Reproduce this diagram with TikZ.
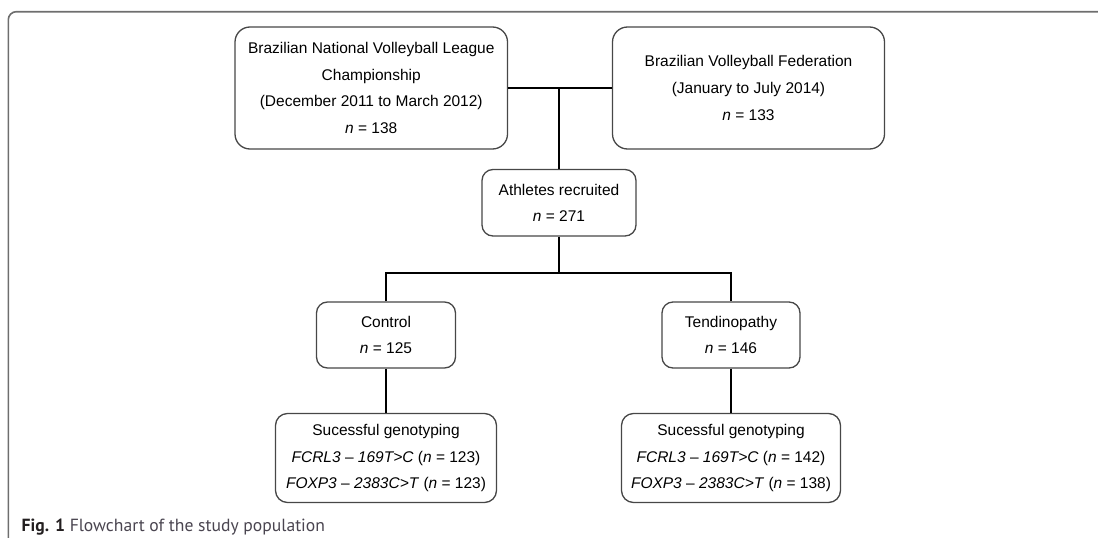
\documentclass[tikz,border=0pt]{standalone}
\usepackage{fontspec}
\setmainfont{Liberation Sans}
\newfontfamily\capfont{PT Sans}
\usepackage{tikz}
\usetikzlibrary{positioning}

\definecolor{boxline}{HTML}{474747}
\definecolor{frameline}{HTML}{6E6E6E}
\definecolor{capfig}{HTML}{231F20}
\definecolor{captext}{HTML}{4A4550}

\tikzset{
    flowbox/.style={draw=boxline, line width=1.3pt, rounded corners=#1, align=center,
        inner sep=0pt, font=\fontsize{15.5}{26.6}\selectfont},
    flowbox/.default=11pt,
    link/.style={black, line width=2pt}
}

\begin{document}
\begin{tikzpicture}[x=1pt, y=-1pt]
    \useasboundingbox (0,0) rectangle (1098,538);
    \draw[frameline, line width=1.6pt, rounded corners=8pt] (8.3,540) -- (8.3,11.7) -- (1100,11.7);

    \node[flowbox=15pt, minimum width=272.5pt, minimum height=122pt] at (371.25,88) (league)
        {Brazilian National Volleyball League\\Championship\\(December 2011 to March 2012)\\\textit{n} = 138};
    \node[flowbox=15pt, minimum width=272pt, minimum height=122pt] at (748.5,88) (federation)
        {Brazilian Volleyball Federation\\(January to July 2014)\\\textit{n} = 133};
    \node[flowbox, minimum width=154pt, minimum height=66.5pt] at (559,202.75) (recruited)
        {Athletes recruited\\\textit{n} = 271};
    \node[flowbox, minimum width=139pt, minimum height=66pt] at (386,335) (control)
        {Control\\\textit{n} = 125};
    \node[flowbox, minimum width=138pt, minimum height=66pt] at (731,335) (tendinopathy)
        {Tendinopathy\\\textit{n} = 146};
    \node[flowbox=12pt, minimum width=221pt, minimum height=89pt] at (386,458) (genocontrol)
        {Sucessful genotyping\\\textit{FCRL3} -- \textit{169T>C} (\textit{n} = 123)\\\textit{FOXP3} -- \textit{2383C>T} (\textit{n} = 123)};
    \node[flowbox=12pt, minimum width=219pt, minimum height=89pt] at (731,458) (genotendo)
        {Sucessful genotyping\\\textit{FCRL3} -- \textit{169T>C} (\textit{n} = 142)\\\textit{FOXP3} -- \textit{2383C>T} (\textit{n} = 138)};

    \coordinate (meet) at (recruited |- league);
    \coordinate (split) at (559,273);

    \draw[link] (league) -- (federation);
    \draw[link] (recruited) -- (meet);
    \draw[link] (recruited) -- (split);
    \draw[link] (control.north) |- (split) -| (tendinopathy.north);
    \draw[link] (control) -- (genocontrol);
    \draw[link] (tendinopathy) -- (genotendo);

    \node[anchor=base west, inner sep=0pt, font=\capfont\fontsize{17.6}{20}\selectfont] at (21.5,531.5) (caption)
        {\textcolor{capfig}{\textbf{Fig. 1}} \textcolor{captext}{Flowchart of the study population}};
\end{tikzpicture}
\end{document}
